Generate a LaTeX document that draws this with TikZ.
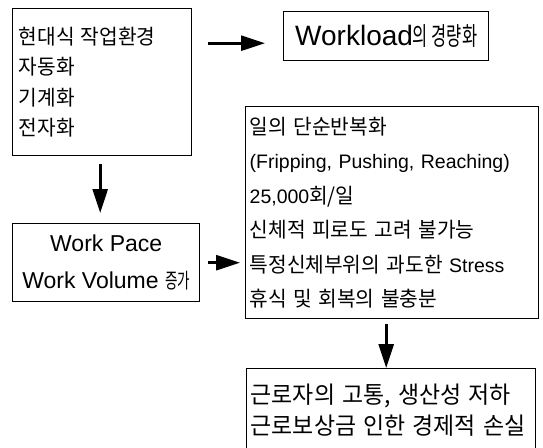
\documentclass[tikz,border=0pt]{standalone}
\usepackage{fontspec}
\setmainfont{Liberation Sans}
\newfontfamily\kr{Noto Sans CJK KR}[Scale=1.1, FakeStretch=0.97]
\newfontfamily\krn{Noto Sans CJK KR}[Scale=1.1, FakeStretch=0.65]
\usetikzlibrary{arrows.meta}

\begin{document}
\begin{tikzpicture}[x=1pt, y=-1pt,
    nodes={draw, line width=1.4pt, inner sep=0pt, anchor=north west},
    arr/.style={line width=2.6pt, -{Triangle[length=24pt, width=15pt]}},
    txt/.style 2 args={font=\fontsize{#1}{#2}\selectfont}]

    \useasboundingbox (0,0) rectangle (543,447);

    \node[txt={19}{30.5}, minimum width=179pt, minimum height=147pt, text width=167pt, align=left]
      (modern) at (12,8) {\kr 현대식 작업환경\\\kr 자동화\\\kr 기계화\\\kr 전자화};
    \node[txt={28}{30}, minimum width=205pt, minimum height=49pt, align=center]
      (light) at (283,11) {Workload{\fontsize{23}{25}\selectfont\krn 의 경량화}};
    \node[txt={23}{37}, minimum width=187pt, minimum height=78pt, align=center]
      (pace) at (12,223) {Work Pace\\Work Volume {\fontsize{19}{25}\selectfont\krn 증가}};
    \node[txt={19.5}{34.4}, minimum width=293pt, minimum height=212pt, text width=285pt, align=left]
      (repeat) at (245,106) {{\fontsize{19}{34.4}\selectfont\kr 일의 단순반복화}\\(Fripping, Pushing, Reaching)\\25,000{\fontsize{19}{34.4}\selectfont\kr 회/일}\\{\fontsize{19}{34.4}\selectfont\kr 신체적 피로도 고려 불가능}\\{\fontsize{19}{34.4}\selectfont\kr 특정신체부위의 과도한} Stress\\{\fontsize{19}{34.4}\selectfont\kr 휴식 및 회복의 불충분}};
    \node[txt={21.5}{31}, minimum width=289pt, minimum height=82pt, text width=281pt, align=left]
      (loss) at (246,368) {{\kr 근로자의 고통, 생산성 저하}\\{\kr 근로보상금 인한 경제적 손실}};

    % connectors
    \coordinate (lightin) at ([yshift=-7pt]light.west);
    \draw[arr, shorten <=16pt, shorten >=18pt] (modern.east |- lightin) -- (lightin);
    \draw[arr, shorten <=8pt, shorten >=10pt] ([xshift=-2pt]modern.south) -- ([xshift=-2pt]modern.south |- pace.north);
    \draw[arr, shorten <=8pt, shorten >=5pt] (pace.east) -- (pace.east -| repeat.west);
    \draw[arr, shorten <=5pt] ([xshift=-6pt]repeat.south) -- ([xshift=-6pt]repeat.south |- loss.north);
\end{tikzpicture}
\end{document}
